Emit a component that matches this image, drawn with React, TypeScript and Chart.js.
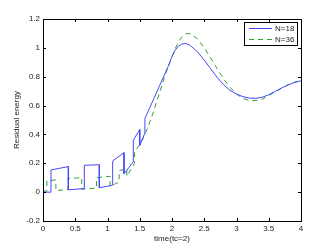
import React, { useEffect, useRef } from "react";
import { Chart, registerables } from "chart.js";

Chart.register(...registerables);

const n18X = [0, 0.124, 0.124, 0.393, 0.393, 0.641, 0.641, 0.873, 0.873, 1.08, 1.08, 1.256, 1.256, 1.4, 1.4, 1.5, 1.5, 1.58, 1.58, 1.65, 1.72, 1.8, 1.87, 1.94, 2.0, 2.05, 2.1, 2.15, 2.2, 2.25, 2.3, 2.4, 2.5, 2.6, 2.7, 2.8, 2.9, 3.0, 3.1, 3.2, 3.3, 3.4, 3.5, 3.6, 3.7, 3.8, 3.9, 4.0];
const n18Y = [0, 0, 0.154, 0.177, 0.016, 0.025, 0.186, 0.19, 0.03, 0.048, 0.216, 0.274, 0.126, 0.21, 0.36, 0.434, 0.324, 0.41, 0.51, 0.58, 0.65, 0.73, 0.8, 0.87, 0.94, 0.985, 1.012, 1.026, 1.03, 1.025, 1.01, 0.97, 0.915, 0.855, 0.795, 0.745, 0.705, 0.68, 0.662, 0.652, 0.65, 0.658, 0.675, 0.698, 0.722, 0.743, 0.76, 0.772];

const n36X = [0, 0.06, 0.06, 0.2, 0.2, 0.39, 0.39, 0.6, 0.6, 0.83, 0.83, 1.04, 1.04, 1.18, 1.18, 1.3, 1.3, 1.42, 1.42, 1.5, 1.55, 1.6, 1.7, 1.8, 1.9, 2.0, 2.05, 2.1, 2.15, 2.2, 2.25, 2.3, 2.4, 2.5, 2.6, 2.7, 2.8, 2.9, 3.0, 3.1, 3.2, 3.3, 3.4, 3.5, 3.6, 3.7, 3.8, 3.9, 4.0];
const n36Y = [0.005, 0.008, 0.078, 0.085, 0.01, 0.02, 0.095, 0.1, 0.02, 0.028, 0.1, 0.11, 0.04, 0.07, 0.15, 0.16, 0.11, 0.2, 0.28, 0.33, 0.37, 0.42, 0.54, 0.68, 0.82, 0.94, 0.995, 1.04, 1.075, 1.095, 1.1, 1.095, 1.06, 1.0, 0.93, 0.855, 0.785, 0.725, 0.68, 0.65, 0.635, 0.635, 0.645, 0.67, 0.695, 0.72, 0.745, 0.762, 0.775];

const seriesLabels = ["N=18", "N=36"];
const xTicks = [0, 0.5, 1, 1.5, 2, 2.5, 3, 3.5, 4];
const yTicks = [-0.2, 0, 0.2, 0.4, 0.6, 0.8, 1, 1.2];
const xTitle = "time(tc=2)";
const yTitle = "Residual energy";

const FONT = "'Liberation Sans', Arial, sans-serif";
const TXT = "#222";

const fmt = (v: number) => String(Math.round(v * 10) / 10);

const boxPlugin = {
  id: "matlabBox",
  afterDraw(chart: any) {
    const { ctx, chartArea: a, scales } = chart;
    ctx.save();
    ctx.strokeStyle = "#000";
    ctx.lineWidth = 1;
    ctx.strokeRect(Math.round(a.left) + 0.5, Math.round(a.top) + 0.5, Math.round(a.right - a.left), Math.round(a.bottom - a.top));
    const tl = 3;
    ctx.beginPath();
    scales.x.ticks.forEach((t: any) => {
      const px = Math.round(scales.x.getPixelForValue(t.value)) + 0.5;
      ctx.moveTo(px, a.bottom); ctx.lineTo(px, a.bottom - tl);
      ctx.moveTo(px, a.top); ctx.lineTo(px, a.top + tl);
    });
    scales.y.ticks.forEach((t: any) => {
      const py = Math.round(scales.y.getPixelForValue(t.value)) + 0.5;
      ctx.moveTo(a.left, py); ctx.lineTo(a.left + tl, py);
      ctx.moveTo(a.right, py); ctx.lineTo(a.right - tl, py);
    });
    ctx.stroke();

    // legend
    const lx = 244, ly = 22, lw = 53, lh = 23;
    ctx.fillStyle = "#fff";
    ctx.fillRect(lx, ly, lw, lh);
    ctx.strokeStyle = "#000";
    ctx.strokeRect(lx + 0.5, ly + 0.5, lw, lh);
    ctx.font = `8px ${FONT}`;
    ctx.textBaseline = "middle";
    ctx.textAlign = "left";
    chart.data.datasets.forEach((ds: any, i: number) => {
      const cy = ly + 6.5 + i * 11;
      ctx.strokeStyle = ds.borderColor;
      ctx.lineWidth = 1;
      ctx.setLineDash(ds.borderDash || []);
      ctx.beginPath();
      ctx.moveTo(249, cy);
      ctx.lineTo(272, cy);
      ctx.stroke();
      ctx.setLineDash([]);
      ctx.fillStyle = TXT;
      ctx.fillText(ds.label, 275, cy);
    });
    ctx.restore();
  },
};

export default function App() {
  const ref = useRef<HTMLCanvasElement>(null);
  useEffect(() => {
    document.body.style.margin = "0";
    const chart = new Chart(ref.current!, {
      type: "line",
      data: {
        datasets: [
          {
            label: seriesLabels[0],
            data: n18X.map((x, i) => ({ x, y: n18Y[i] })),
            borderColor: "#4646ff",
            borderWidth: 1,
            pointRadius: 0,
            tension: 0,
            fill: false,
          },
          {
            label: seriesLabels[1],
            data: n36X.map((x, i) => ({ x, y: n36Y[i] })),
            borderColor: "#2f9e2f",
            borderWidth: 1,
            borderDash: [5, 4],
            pointRadius: 0,
            tension: 0,
            fill: false,
          },
        ],
      },
      options: {
        animation: false,
        responsive: false,
        maintainAspectRatio: false,
        layout: { padding: { top: 19, right: 31, left: 0, bottom: 0 } },
        plugins: { legend: { display: false }, tooltip: { enabled: false } },
        scales: {
          x: {
            type: "linear",
            min: 0,
            max: 4,
            afterFit: (s: any) => { s.height = 29; },
            afterBuildTicks: (s: any) => { s.ticks = xTicks.map((v) => ({ value: v })); },
            grid: { display: false, drawTicks: false },
            border: { display: false },
            ticks: { padding: 3, color: TXT, font: { family: FONT, size: 8 }, maxRotation: 0, autoSkip: false, callback: (v: any) => fmt(v) },
            title: { display: true, text: xTitle, color: TXT, font: { family: FONT, size: 8 }, padding: { top: 0, bottom: 6 } },
          },
          y: {
            type: "linear",
            min: -0.2,
            max: 1.2,
            afterFit: (s: any) => { s.width = 43; },
            afterBuildTicks: (s: any) => { s.ticks = yTicks.map((v) => ({ value: v })); },
            grid: { display: false, drawTicks: false },
            border: { display: false },
            ticks: { padding: 3, color: TXT, font: { family: FONT, size: 8 }, autoSkip: false, callback: (v: any) => fmt(v) },
            title: { display: true, text: yTitle, color: TXT, font: { family: FONT, size: 8 }, padding: { top: 12, bottom: 0 } },
          },
        },
      },
      plugins: [boxPlugin],
    } as any);
    return () => chart.destroy();
  }, []);
  return (
    <div style={{ width: 332, height: 250 }}>
      <canvas ref={ref} width={332} height={250} style={{ display: "block" }} />
    </div>
  );
}
